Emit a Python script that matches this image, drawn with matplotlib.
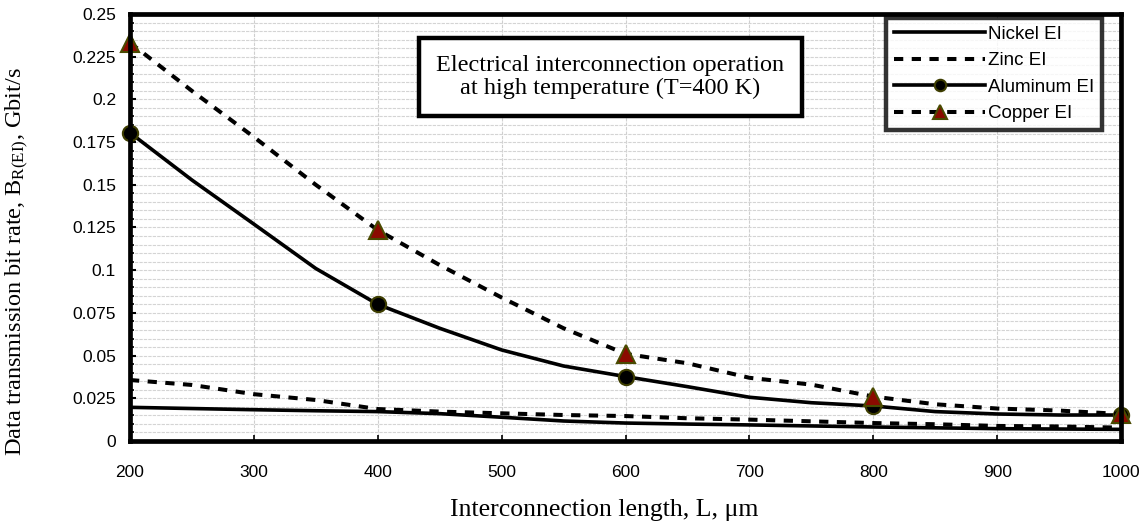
import matplotlib
matplotlib.use("Agg")
import matplotlib.pyplot as plt
from matplotlib.ticker import MultipleLocator, FuncFormatter

# ---- data ----
length_um = [200, 250, 300, 350, 400, 450, 500, 550, 600, 650, 700, 750, 800, 850, 900, 950, 1000]
nickel = [0.0197, 0.0190, 0.0183, 0.0177, 0.0172, 0.0160, 0.0139, 0.0117, 0.0105, 0.0099,
          0.0094, 0.0088, 0.0082, 0.0077, 0.0072, 0.0070, 0.0068]
zinc = [0.0357, 0.0328, 0.0274, 0.0240, 0.0187, 0.0172, 0.0162, 0.0152, 0.0146, 0.0133,
        0.0125, 0.0115, 0.0105, 0.0098, 0.0088, 0.0085, 0.0078]
aluminum = [0.1805, 0.1528, 0.1270, 0.1010, 0.0800, 0.0660, 0.0533, 0.0439, 0.0377, 0.0318,
            0.0256, 0.0224, 0.0205, 0.0172, 0.0158, 0.0152, 0.0152]
copper = [0.2332, 0.2050, 0.1780, 0.1500, 0.1235, 0.1030, 0.0840, 0.0660, 0.0510, 0.0455,
          0.0370, 0.0330, 0.0260, 0.0215, 0.0190, 0.0178, 0.0158]
series_names = ["Nickel EI", "Zinc EI", "Aluminum EI", "Copper EI"]
annotation = "Electrical interconnection operation\nat high temperature (T=400 K)"

plt.rcParams['mathtext.fontset'] = 'custom'
plt.rcParams['mathtext.rm'] = 'Liberation Serif'
plt.rcParams['mathtext.it'] = 'Liberation Serif:italic'

fig = plt.figure(figsize=(11.43, 5.29), dpi=100)
ax = fig.add_axes([0.1137, 0.1664, 0.9808 - 0.1137, 0.9735 - 0.1664])

lw = 2.6
dash = (2.3, 2.1)
ax.plot(length_um, nickel, color='black', lw=lw, label=series_names[0], zorder=3)
ax.plot(length_um, zinc, color='black', lw=lw + 0.3, dashes=dash, label=series_names[1], zorder=3)
ax.plot(length_um, aluminum, color='black', lw=lw, marker='o', markevery=4, markersize=11,
        markerfacecolor='black', markeredgecolor='#3d3d00', markeredgewidth=1.5,
        label=series_names[2], zorder=4, clip_on=False)
ax.plot(length_um, copper, color='black', lw=lw + 0.3, dashes=dash, marker='^', markevery=4,
        markersize=13, markerfacecolor='#8b0a00', markeredgecolor='#4a4a00', markeredgewidth=1.5,
        label=series_names[3], zorder=5, clip_on=False)

ax.set_xlim(200, 1000)
ax.set_ylim(0, 0.25)
ax.xaxis.set_major_locator(MultipleLocator(100))
ax.yaxis.set_major_locator(MultipleLocator(0.025))
ax.yaxis.set_minor_locator(MultipleLocator(0.005))
ax.yaxis.set_major_formatter(FuncFormatter(lambda v, p: f"{round(v, 3):g}"))

ax.grid(True, which='major', axis='x', color='#cfcfcf', lw=0.8, ls=(0, (3, 1)))
ax.grid(True, which='both', axis='y', color='#d4d4d4', lw=0.8, ls=(0, (3, 1)))
ax.set_axisbelow(True)

for s in ax.spines.values():
    s.set_linewidth(3.4)
    s.set_zorder(6)

ax.tick_params(axis='both', which='both', direction='in', color='black')
ax.tick_params(axis='y', which='major', length=4, width=1.5, pad=10)
ax.tick_params(axis='y', which='minor', length=3, width=1.2)
ax.tick_params(axis='x', which='major', length=4, width=1.2, pad=17)
for lab in ax.get_xticklabels() + ax.get_yticklabels():
    lab.set_fontfamily('Liberation Sans')
    lab.set_fontsize(12.5)

ax.set_xlabel("Interconnection length, L, \u03bcm", fontfamily='Liberation Serif', fontsize=18.5,
              va='center', ha='center')
ax.set_ylabel(r"Data transmission bit rate, B$_{\mathrm{R(EI)}}$, Gbit/s", fontfamily='Liberation Serif',
              fontsize=17.5, va='center', ha='center')
ax.xaxis.set_label_coords((604 - 130) / 991, -(510 - 441) / 427)
ax.yaxis.set_label_coords(-(130 - 18) / 991, (441 - 262) / 427)

# annotation box
ax.text((413 + 808) / 2 / 1143, 1 - 77 / 529, annotation, transform=fig.transFigure,
        ha='center', va='center', fontfamily='Liberation Serif', fontsize=17.5, linespacing=1.1,
        zorder=7,
        bbox=dict(boxstyle='square,pad=0.72', facecolor='white', edgecolor='black', linewidth=3.2))

leg = ax.legend(loc='upper right', bbox_to_anchor=(1102 / 1143, 1 - 18 / 529),
                bbox_transform=fig.transFigure, frameon=True, fancybox=False,
                prop={'family': 'Liberation Sans', 'size': 13.5}, handlelength=4.9,
                handletextpad=0.15, labelspacing=0.5, borderpad=0.4, borderaxespad=0,
                markerscale=0.75)
leg.get_frame().set_edgecolor('black')
leg.get_frame().set_linewidth(3.2)
leg.set_zorder(8)

fig.savefig("out.png", dpi=100)
